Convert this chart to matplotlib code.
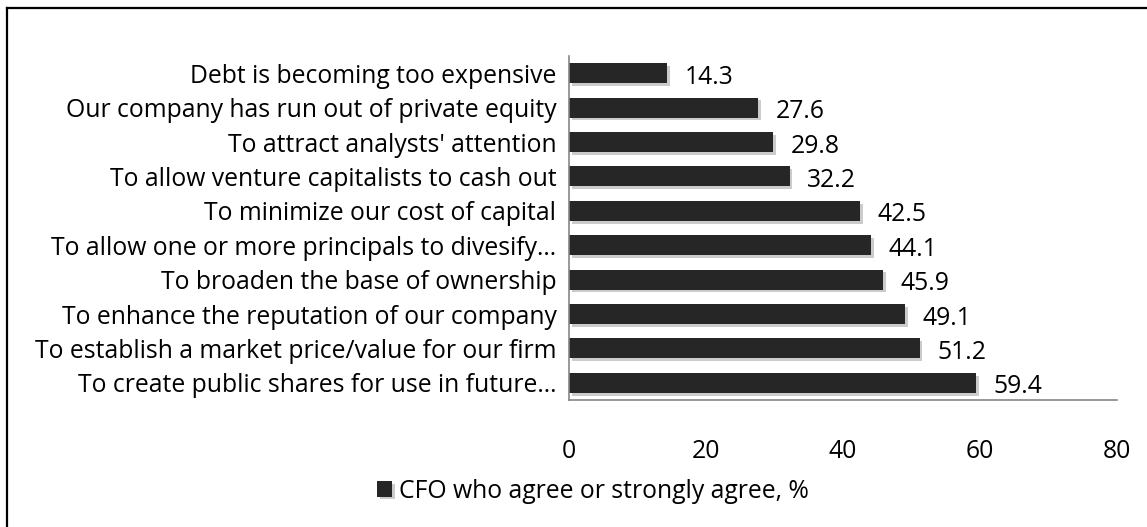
import matplotlib.pyplot as plt
import matplotlib.patheffects as pe
from matplotlib.lines import Line2D

plt.rcParams['font.family'] = ['Open Sans', 'DejaVu Sans']

# Данные
reasons = [
    "Debt is becoming too expensive",
    "Our company has run out of private equity",
    "To attract analysts' attention",
    "To allow venture capitalists to cash out",
    "To minimize our cost of capital",
    "To allow one or more principals to divesify\u2026",
    "To broaden the base of ownership",
    "To enhance the reputation of our company",
    "To establish a market price/value for our firm",
    "To create public shares for use in future\u2026",
]
values = [14.3, 27.6, 29.8, 32.2, 42.5, 44.1, 45.9, 49.1, 51.2, 59.4]
x_ticks = [0, 20, 40, 60, 80]
series_name = "CFO who agree or strongly agree, %"

W, H = 1147, 527
fig = plt.figure(figsize=(W / 100, H / 100), dpi=100)
ax = fig.add_axes([569 / W, 1 - 400 / H, 548 / W, 344 / H])

pos = list(range(len(values)))[::-1]
bars = ax.barh(pos, values, height=0.58, color="#262626", label=series_name)
for b in bars:
    b.set_path_effects([pe.SimplePatchShadow(offset=(2, -2), shadow_rgbFace="#999999", alpha=0.5), pe.Normal()])

for p, v in zip(pos, values):
    ax.annotate(f"{v}", (v, p), xytext=(12.5, -3), textcoords="offset points",
                va="center", ha="left", fontsize=17.8)

ax.set_xlim(0, 80)
ax.set_ylim(-0.5, len(values) - 0.5)
ax.set_yticks(pos)
ax.set_yticklabels(reasons, fontsize=17.8)
ax.set_xticks(x_ticks)
ax.tick_params(axis="x", length=0, pad=28, labelsize=17.8)
ax.tick_params(axis="y", length=0, pad=9)

for s in ["top", "right"]:
    ax.spines[s].set_visible(False)
for s in ["left", "bottom"]:
    ax.spines[s].set_color("#868686")
    ax.spines[s].set_linewidth(1.2)

fig.legend(handles=[bars], labels=[series_name], loc="center", bbox_to_anchor=(593 / W, 1 - 491 / H),
           frameon=False, fontsize=17.8, handlelength=0.6, handleheight=0.6, handletextpad=0.3)

# рамка (правая и нижняя стороны обрезаны)
x0, y0 = 7.5 / W, 1 - 7.5 / H
fig.add_artist(Line2D([x0, 1.0], [y0, y0], transform=fig.transFigure, color="black", lw=1.6))
fig.add_artist(Line2D([x0, x0], [0.0, y0], transform=fig.transFigure, color="black", lw=1.6))

fig.savefig("out.png", dpi=100)
